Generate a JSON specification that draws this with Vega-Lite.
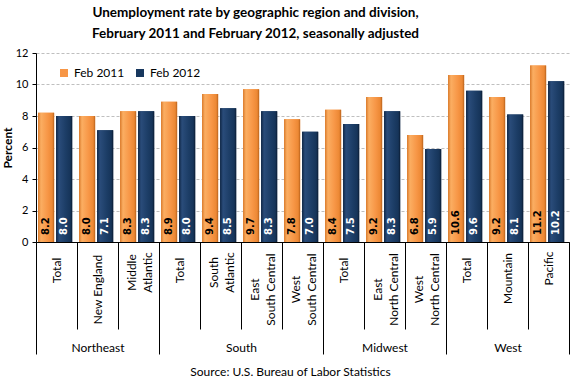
{
  "$schema": "https://vega.github.io/schema/vega-lite/v6.json",
  "width": 533,
  "height": 189,
  "autosize": "none",
  "padding": {"left": 36, "top": 53, "right": 11, "bottom": 144},
  "background": "white",
  "config": {"font": "Lato", "view": {"stroke": null}},
  "title": {
    "text": ["Unemployment rate by geographic region and division,", "February 2011 and February 2012, seasonally adjusted"],
    "font": "Lato", "fontSize": 13.5, "fontWeight": "bold", "color": "black",
    "anchor": "middle", "frame": "group", "dx": -47, "lineHeight": 21, "offset": 7
  },
  "data": {"values": [
    {"cat": "Northeast|Total", "series": "Feb 2011", "value": 8.2},
    {"cat": "Northeast|Total", "series": "Feb 2012", "value": 8.0},
    {"cat": "Northeast|New England", "series": "Feb 2011", "value": 8.0},
    {"cat": "Northeast|New England", "series": "Feb 2012", "value": 7.1},
    {"cat": "Northeast|Middle/Atlantic", "series": "Feb 2011", "value": 8.3},
    {"cat": "Northeast|Middle/Atlantic", "series": "Feb 2012", "value": 8.3},
    {"cat": "South|Total", "series": "Feb 2011", "value": 8.9},
    {"cat": "South|Total", "series": "Feb 2012", "value": 8.0},
    {"cat": "South|South/Atlantic", "series": "Feb 2011", "value": 9.4},
    {"cat": "South|South/Atlantic", "series": "Feb 2012", "value": 8.5},
    {"cat": "South|East/South Central", "series": "Feb 2011", "value": 9.7},
    {"cat": "South|East/South Central", "series": "Feb 2012", "value": 8.3},
    {"cat": "South|West/South Central", "series": "Feb 2011", "value": 7.8},
    {"cat": "South|West/South Central", "series": "Feb 2012", "value": 7.0},
    {"cat": "Midwest|Total", "series": "Feb 2011", "value": 8.4},
    {"cat": "Midwest|Total", "series": "Feb 2012", "value": 7.5},
    {"cat": "Midwest|East/North Central", "series": "Feb 2011", "value": 9.2},
    {"cat": "Midwest|East/North Central", "series": "Feb 2012", "value": 8.3},
    {"cat": "Midwest|West/North Central", "series": "Feb 2011", "value": 6.8},
    {"cat": "Midwest|West/North Central", "series": "Feb 2012", "value": 5.9},
    {"cat": "West|Total", "series": "Feb 2011", "value": 10.6},
    {"cat": "West|Total", "series": "Feb 2012", "value": 9.6},
    {"cat": "West|Mountain", "series": "Feb 2011", "value": 9.2},
    {"cat": "West|Mountain", "series": "Feb 2012", "value": 8.1},
    {"cat": "West|Pacific", "series": "Feb 2011", "value": 11.2},
    {"cat": "West|Pacific", "series": "Feb 2012", "value": 10.2}
  ]},
  "resolve": {"axis": {"x": "independent", "y": "independent"}},
  "layer": [
    {
      "mark": {"type": "bar"},
      "encoding": {
        "x": {
          "field": "cat", "type": "nominal", "sort": null,
          "scale": {"paddingInner": 0, "paddingOuter": 0},
          "axis": {
            "orient": "bottom", "title": null,
            "domain": true, "domainColor": "black", "domainWidth": 1,
            "ticks": true, "tickBand": "extent", "tickSize": 87, "tickColor": "black",
            "labelAngle": -90, "labelAlign": "center", "labelBaseline": "middle",
            "labelPadding": {"condition": [
              {"test": "datum.value && indexof(datum.value, '|Total') >= 0", "value": -59},
              {"test": "datum.value && indexof(datum.value, 'Atlantic') >= 0", "value": -57},
              {"test": "datum.value && indexof(datum.value, 'Mountain') >= 0", "value": -51},
              {"test": "datum.value && indexof(datum.value, 'Pacific') >= 0", "value": -61}
            ], "value": -40},
            "labelOffset": {"condition": {"test": "datum.value && indexof(datum.value, '/') >= 0", "value": -7}, "value": 0},
            "labelFont": "Lato", "labelFontSize": 12, "labelColor": "black",
            "labelLineHeight": 16, "labelOverlap": false, "labelLimit": 200,
            "labelExpr": "datum.value ? split(split(datum.value, '|')[1], '/') : ''"
          }
        },
        "xOffset": {"field": "series", "scale": {"paddingInner": 0.11, "paddingOuter": 0.19, "align": 0.3}},
        "y": {
          "field": "value", "type": "quantitative",
          "scale": {"domain": [0, 12], "nice": false},
          "axis": {
            "orient": "left",
            "title": "Percent", "titleFont": "Lato", "titleFontSize": 12, "titleFontWeight": "bold", "titleColor": "black", "titlePadding": 1,
            "values": [0, 2, 4, 6, 8, 10, 12], "format": "d",
            "domainColor": "black", "tickColor": "black", "tickSize": 4,
            "labelFont": "Lato", "labelFontSize": 11, "labelColor": "black", "labelPadding": 4,
            "grid": true, "gridColor": "#BFBFBF", "gridDash": [3, 2]
          }
        },
        "color": {
          "field": "series", "type": "nominal",
          "scale": {"domain": ["Feb 2011", "Feb 2012"], "range": ["#F79646", "#17375E"]},
          "legend": {
            "title": null, "orient": "none", "legendX": 22, "legendY": 14, "direction": "horizontal",
            "symbolType": "square", "symbolSize": 64, "symbolStrokeWidth": 0,
            "labelFont": "Lato", "labelFontSize": 12, "labelColor": "black", "labelOffset": 4,
            "columnPadding": 9, "padding": 0
          }
        }
      }
    },
    {
      "mark": {"type": "bar"},
      "encoding": {
        "x": {"field": "cat", "type": "nominal", "sort": null, "axis": null},
        "xOffset": {"field": "series"},
        "y": {"field": "value", "type": "quantitative", "axis": null},
        "color": {
          "condition": {"test": "datum.series == 'Feb 2012'", "value": {"gradient": "linear", "x1": 0, "x2": 1, "y1": 0, "y2": 0, "stops": [
            {"offset": 0, "color": "#0F2645"}, {"offset": 0.18, "color": "#2A4C7A"}, {"offset": 0.6, "color": "#1C3D66"}, {"offset": 0.88, "color": "#163459"}, {"offset": 1, "color": "#0B1C33"}]}},
          "value": {"gradient": "linear", "x1": 0, "x2": 1, "y1": 0, "y2": 0, "stops": [
            {"offset": 0, "color": "#D97A2B"}, {"offset": 0.18, "color": "#FBAE62"}, {"offset": 0.6, "color": "#F79646"}, {"offset": 0.88, "color": "#EC8834"}, {"offset": 1, "color": "#B8621C"}]}
        }
      }
    },
    {
      "mark": {"type": "text", "angle": 270, "align": "left", "baseline": "middle", "dx": 7, "font": "DejaVu Sans", "fontWeight": "bold", "fontSize": 10},
      "encoding": {
        "x": {
          "field": "cat", "type": "nominal", "sort": null,
          "axis": {
            "orient": "bottom", "title": "Source: U.S. Bureau of Labor Statistics",
            "titleFont": "Lato", "titleFontSize": 12, "titleFontWeight": "normal", "titleColor": "black",
            "titlePadding": 12, "titleX": 254,
            "domain": false,
            "ticks": true, "tickBand": "extent", "tickSize": 112, "tickColor": "black",
            "tickOpacity": {"condition": {"test": "!datum.value || indexof(datum.value, '|Middle') >= 0 || indexof(datum.value, '|West') >= 0 || indexof(datum.value, '|Pacific') >= 0", "value": 1}, "value": 0},
            "labelAngle": 0, "labelAlign": "center", "labelBaseline": "top",
            "labelPadding": -12, "labelFont": "Lato", "labelFontSize": 12, "labelColor": "black",
            "labelOverlap": false,
            "labelOffset": {"condition": {"test": "datum.value && indexof(datum.value, '|South') >= 0", "value": 20.5}, "value": 0},
            "labelExpr": "!datum.value ? '' : ((indexof(datum.value, '|New England') >= 0 || indexof(datum.value, '|South') >= 0 || indexof(datum.value, 'Midwest|East') >= 0 || indexof(datum.value, '|Mountain') >= 0) ? split(datum.value, '|')[0] : '')"
          }
        },
        "xOffset": {"field": "series"},
        "y": {"datum": 0, "type": "quantitative", "axis": null},
        "text": {"field": "value", "type": "quantitative", "format": ".1f"},
        "color": {"condition": {"test": "datum.series == 'Feb 2012'", "value": "white"}, "value": "black"}
      }
    }
  ]
}
